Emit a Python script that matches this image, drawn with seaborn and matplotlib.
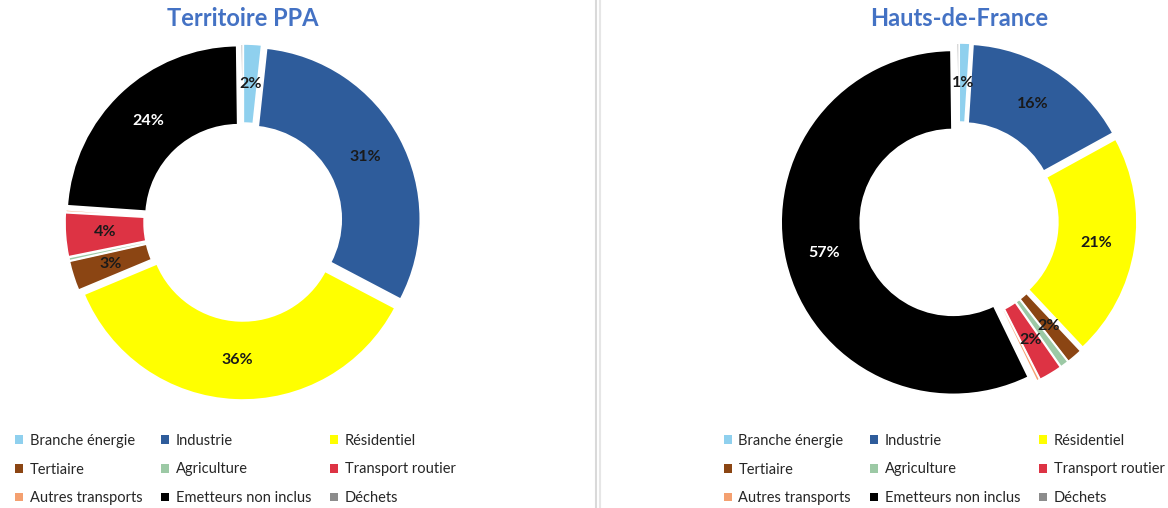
import matplotlib
matplotlib.use("Agg")
import matplotlib.pyplot as plt
import numpy as np
import seaborn as sns
from matplotlib.lines import Line2D
from matplotlib.patches import Patch

sns.set_theme(style="white")
plt.rcParams['font.family'] = ['Lato', 'DejaVu Sans']

categories = ["Branche énergie", "Industrie", "Résidentiel", "Tertiaire", "Agriculture",
              "Transport routier", "Autres transports", "Emetteurs non inclus", "Déchets"]
colors = ["#8FD0EE", "#2E5C9B", "#FFFF00", "#8B4513", "#9CC9A5",
          "#DD3344", "#F4A070", "#000000", "#8C8C8C"]

ppa_values = [1.7, 31.0, 36.0, 2.8, 0.3, 4.1, 0.2, 23.7, 0.2]
ppa_labels = ["2%", "31%", "36%", "3%", "", "4%", "", "24%", ""]

hdf_values = [1.0, 16.0, 21.0, 1.5, 0.8, 2.2, 0.3, 57.0, 0.2]
hdf_labels = ["1%", "16%", "21%", "2%", "", "2%", "", "57%", ""]

titles = ["Territoire PPA", "Hauts-de-France"]

palette = sns.color_palette(colors)

fig = plt.figure(figsize=(11.68, 5.08), dpi=100)
W, H = 1168, 508
R = 172  # px for radius 1
lim = 1.2
side = 2 * lim * R


def make_ax(cx, cy):
    return fig.add_axes([(cx - side / 2) / W, (H - cy - side / 2) / H, side / W, side / H])


width = 0.46
explode = 0.035
for k, (vals, labs, title, (cx, cy)) in enumerate(zip(
        [ppa_values, hdf_values], [ppa_labels, hdf_labels], titles,
        [(243, 222), (959, 221)])):
    ax = make_ax(cx, cy)
    wedges, _ = ax.pie(vals, colors=palette, startangle=90, counterclock=False,
                       radius=1.0, explode=[explode] * len(vals),
                       wedgeprops=dict(width=width, edgecolor="white", linewidth=1.2))
    for w, lab, col in zip(wedges, labs, colors):
        if not lab:
            continue
        ang = np.deg2rad((w.theta1 + w.theta2) / 2)
        r = 1 - width / 2 + explode
        tcol = "white" if col == "#000000" else "#1a1a1a"
        ax.text(r * np.cos(ang), r * np.sin(ang), lab, ha="center", va="center",
                fontsize=11.5, fontweight="bold", color=tcol)
    ax.set_xlim(-lim, lim)
    ax.set_ylim(-lim, lim)
    ax.set_aspect("equal")
    ax.axis("off")
    fig.text(cx / W, 1 - 19 / H, title, ha="center", va="center", fontsize=17,
             fontweight="bold", color="#4472C4")

    order = [0, 3, 6, 1, 4, 7, 2, 5, 8]
    handles = [Patch(facecolor=palette[i], edgecolor="none") for i in order]
    labels = [categories[i] for i in order]
    lx = 12 / W if k == 0 else 721 / W
    fig.legend(handles, labels, ncol=3, loc="upper left", bbox_to_anchor=(lx, 1 - 431 / H),
               frameon=False, fontsize=10.5, handlelength=0.55, handleheight=0.55,
               handletextpad=0.45, columnspacing=1.3, labelspacing=1.0,
               borderaxespad=0, borderpad=0.2)

fig.add_artist(Line2D([596 / W, 596 / W], [0, 1], color="#d9d9d9", lw=1.5))
fig.add_artist(Line2D([600 / W, 600 / W], [0, 1], color="#e6e6e6", lw=1.5))

fig.savefig("out.png", dpi=100, facecolor="white")
